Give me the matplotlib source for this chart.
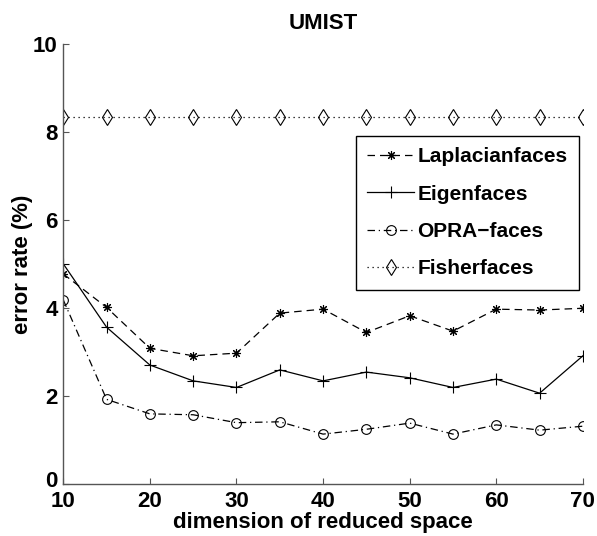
import matplotlib
matplotlib.use("Agg")
import matplotlib.pyplot as plt
import matplotlib.transforms as mtransforms

plt.rcParams['font.family'] = ['Liberation Sans', 'DejaVu Sans']
plt.rcParams['font.weight'] = 'bold'

dims = [10, 15, 20, 25, 30, 35, 40, 45, 50, 55, 60, 65, 70]
laplacian = [4.78, 4.02, 3.09, 2.92, 2.98, 3.89, 3.98, 3.45, 3.83, 3.48, 3.98, 3.96, 4.00]
eigen = [5.01, 3.57, 2.71, 2.35, 2.20, 2.60, 2.35, 2.55, 2.42, 2.20, 2.39, 2.07, 2.92]
opra = [4.19, 1.93, 1.60, 1.58, 1.40, 1.42, 1.14, 1.25, 1.39, 1.14, 1.35, 1.23, 1.32]
fisher = [8.34] * 13
series_names = ["Laplacianfaces", "Eigenfaces", "OPRA\u2212faces", "Fisherfaces"]
xticks = [10, 20, 30, 40, 50, 60, 70]
yticks = [0, 2, 4, 6, 8, 10]

fig = plt.figure(figsize=(5.97, 5.36), dpi=100)
ax = fig.add_axes([0.106, 0.0965, 0.8704, 0.8209])

lw = 0.9
ax.plot(dims, laplacian, color='black', linestyle=(0, (6, 4)), linewidth=lw,
        marker=(8, 2, 0), markersize=6.5, markeredgewidth=0.8, label=series_names[0])
ax.plot(dims, eigen, color='black', linestyle='-', linewidth=lw,
        marker='+', markersize=8, markeredgewidth=0.8, label=series_names[1])
ax.plot(dims, opra, color='black', linestyle=(0, (6, 3, 1, 3)), linewidth=lw,
        marker='o', markersize=7, markerfacecolor='none', markeredgewidth=0.8, label=series_names[2])
ax.plot(dims, fisher, color='black', linestyle=(0, (1, 3)), linewidth=lw,
        marker='d', markersize=8, markerfacecolor='none', markeredgewidth=0.8, label=series_names[3])

ax.set_xlim(10, 70)
ax.set_ylim(0, 10)
ax.set_xticks(xticks)
ax.set_yticks(yticks)
ax.tick_params(direction='in', length=4, width=0.8, color='#555555', labelsize=16, pad=5)
ax.tick_params(axis='y', pad=4)
for lab in ax.get_xticklabels() + ax.get_yticklabels():
    lab.set_fontweight('bold')
# lift the "0" label slightly, as in the reference
zero_lab = ax.get_yticklabels()[0]
zero_lab.set_transform(zero_lab.get_transform() +
                       mtransforms.ScaledTranslation(0, 5 / 100, fig.dpi_scale_trans))
ax.spines['top'].set_visible(False)
ax.spines['right'].set_visible(False)
for s in ('left', 'bottom'):
    ax.spines[s].set_color('#555555')
    ax.spines[s].set_linewidth(1.0)

ax.set_title("UMIST", fontsize=16, fontweight='bold', pad=11)
ax.set_xlabel("dimension of reduced space", fontsize=16, fontweight='bold', labelpad=0)
ax.set_ylabel("error rate (%)", fontsize=16, fontweight='bold', labelpad=0)

leg = ax.legend(loc='upper right', bbox_to_anchor=(0.992, 0.7916), fontsize=15,
                frameon=True, fancybox=False, edgecolor='black', framealpha=1,
                handlelength=2.26, handletextpad=0.15, labelspacing=0.88,
                borderpad=0.55, borderaxespad=0)
leg.get_frame().set_linewidth(1.0)
for t in leg.get_texts():
    t.set_fontweight('bold')

fig.savefig("out.png", dpi=100)
